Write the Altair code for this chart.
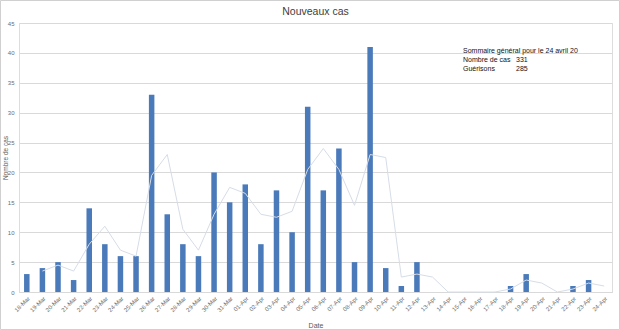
import altair as alt
import pandas as pd

chart_title = "Nouveaux cas"
dates = ["18-Mar", "19-Mar", "20-Mar", "21-Mar", "22-Mar", "23-Mar", "24-Mar", "25-Mar",
         "26-Mar", "27-Mar", "28-Mar", "29-Mar", "30-Mar", "31-Mar", "01-Apr", "02-Apr",
         "03-Apr", "04-Apr", "05-Apr", "06-Apr", "07-Apr", "08-Apr", "09-Apr", "10-Apr",
         "11-Apr", "12-Apr", "13-Apr", "14-Apr", "15-Apr", "16-Apr", "17-Apr", "18-Apr",
         "19-Apr", "20-Apr", "21-Apr", "22-Apr", "23-Apr", "24-Apr"]
new_cases = [3, 4, 5, 2, 14, 8, 6, 6, 33, 13, 8, 6, 20, 15, 18, 8, 17, 10, 31, 17, 24, 5,
             41, 4, 1, 5, 0, 0, 0, 0, 0, 1, 3, 0, 0, 1, 2, 0]
# trend line (starts at 19-Mar)
trend_dates = dates[1:]
trend_values = [3.5, 4.5, 3.5, 8, 11, 7, 6, 19.5, 23, 10.5, 7, 13, 17.5, 16.5, 13, 12.5,
                13.5, 20.5, 24, 20.5, 14.5, 23, 22.5, 2.5, 3, 2.5, 0, 0, 0, 0, 0.5, 2,
                1.5, 0, 0.5, 1.5, 1]
y_ticks = [0, 5, 10, 15, 20, 25, 30, 35, 40, 45]

summary_labels = ["Sommaire général pour le 24 avril 20", "Nombre de cas", "Guérisons"]
summary_values = ["", "331", "285"]

bars_df = pd.DataFrame({"Date": dates, "Cas": new_cases})
trend_df = pd.DataFrame({"Date": trend_dates, "Cas": trend_values})

W, H = 593, 269

xenc = alt.X("Date:N", sort=dates, scale=alt.Scale(domain=dates, paddingInner=0, paddingOuter=0),
             axis=alt.Axis(title="Date", labelAngle=-45, labelFontSize=6, labelColor="#6b6b6b",
                           ticks=False, domain=True, domainColor="#d9d9d9", labelPadding=3,
                           titleFontSize=7, titleColor="#595959", titleFontWeight="normal",
                           titleY=29, grid=False))
yscale = alt.Scale(domain=[0, 45], nice=False)
yaxis = alt.Axis(title="Nombre de cas", values=y_ticks, labelFontSize=6,
                 labelColor="#6b6b6b", ticks=False, domain=False, labelPadding=5,
                 gridColor="#d9d9d9", titleFontSize=6.5, titleColor="#595959",
                 titleFontWeight="normal", titleX=-14, titleY=H / 2,
                 titleAlign="center", titleBaseline="middle")

bars = alt.Chart(bars_df).mark_bar(color="#4a7ab9", size=5.5).encode(
    x=xenc,
    y=alt.Y("Cas:Q", scale=yscale, axis=yaxis),
)

trend = alt.Chart(trend_df).mark_line(color="#d6dde7", strokeWidth=1).encode(
    x=alt.X("Date:N", sort=dates),
    y=alt.Y("Cas:Q", scale=yscale, axis=yaxis),
)

title_layer = alt.Chart(pd.DataFrame({"t": [chart_title]})).mark_text(
    align="center", baseline="middle", fontSize=10.5, font="Liberation Sans", color="#404040"
).encode(x=alt.value(W / 2), y=alt.value(-11), text="t:N")

text_layers = []
row_y = [28, 37, 46]
for i, (lab, val) in enumerate(zip(summary_labels, summary_values)):
    row_df = pd.DataFrame({"label": [lab], "value": [val]})
    text_layers.append(
        alt.Chart(row_df).mark_text(align="left", baseline="middle", fontSize=7,
                                    font="Liberation Sans", color="#111111").encode(
            x=alt.value(444), y=alt.value(row_y[i]), text="label:N")
    )
    if val:
        text_layers.append(
            alt.Chart(row_df).mark_text(align="left", baseline="middle", fontSize=7,
                                        font="Liberation Sans", color="#111111").encode(
                x=alt.value(497), y=alt.value(row_y[i]), text="value:N")
        )

frame = alt.Chart(bars_df.head(1)).mark_rect(fill=None, stroke="#d0d0d0", strokeWidth=1).encode(
    x=alt.value(-18.5), x2=alt.value(600.5), y=alt.value(-22.5), y2=alt.value(306.5)
)

chart = alt.layer(bars, trend, title_layer, *text_layers, frame).properties(
    width=W, height=H,
    autosize=alt.AutoSizeParams(type="none"),
    padding={"left": 19, "top": 23, "right": 8, "bottom": 38},
).configure_view(stroke=None).configure(font="Liberation Sans")

chart.save("out.html", embed_options={"renderer": "svg", "actions": False})
